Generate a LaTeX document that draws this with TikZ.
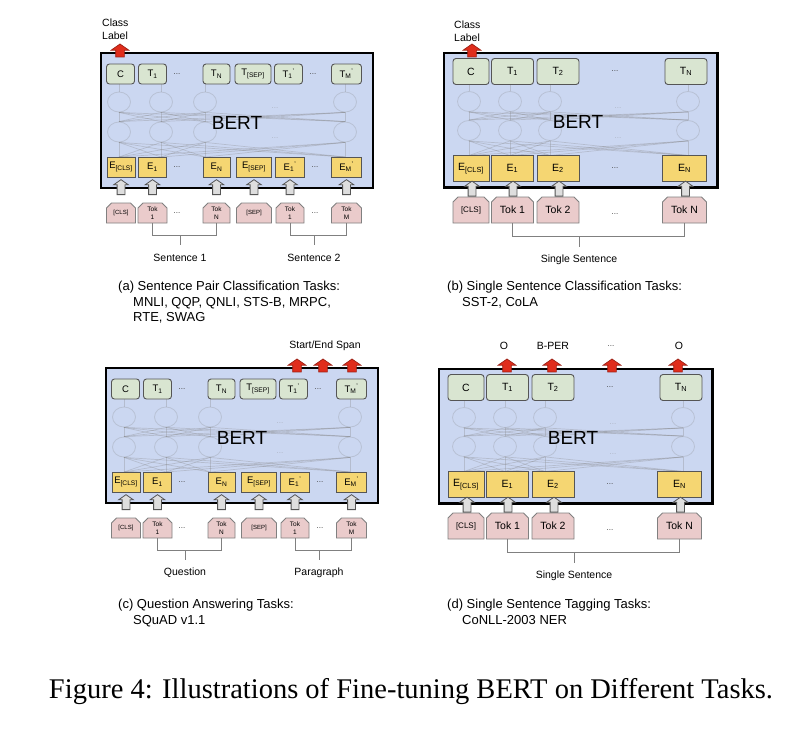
\documentclass[tikz,border=0pt]{standalone}
\usepackage{fontspec}
\setmainfont{Liberation Sans}
\newfontfamily\capserif{Liberation Serif}
\usepackage{tikz}
\usetikzlibrary{shapes.misc,shapes.arrows,shapes.geometric,positioning}
\usepackage{xcolor}
\definecolor{bertblue}{RGB}{203,215,241}
\definecolor{outgreen}{RGB}{217,229,209}
\definecolor{embyellow}{RGB}{245,214,114}
\definecolor{tokpink}{RGB}{234,203,203}
\definecolor{edgegray}{RGB}{85,85,85}
\definecolor{arrred}{RGB}{224,45,28}
\definecolor{arrgray}{RGB}{222,222,222}
\tikzstyle{bertbox} = [draw=black, line width=2.4pt, fill=bertblue]
\tikzstyle{outnode} = [rectangle, rounded corners=3pt, draw=edgegray, line width=0.9pt, fill=outgreen, inner sep=0pt, minimum height=20pt, font=\fontsize{9.5}{10}\selectfont]
\tikzstyle{embnode} = [rectangle, draw=edgegray, line width=0.9pt, fill=embyellow, inner sep=0pt, minimum height=20pt, font=\fontsize{9.5}{10}\selectfont]
\tikzstyle{toknode} = [chamfered rectangle, chamfered rectangle corners={north west,north east}, chamfered rectangle xsep=2.5pt, chamfered rectangle ysep=2.5pt, draw=gray, line width=0.8pt, fill=tokpink, inner sep=0pt, minimum height=20pt, align=center, font=\fontsize{6.5}{7.5}\selectfont]
\tikzstyle{bigrow} = [minimum height=26pt, font=\fontsize{10.5}{12}\selectfont]
\tikzstyle{inarrow} = [single arrow, shape border rotate=90, draw=edgegray, fill=arrgray, line width=0.8pt, inner sep=3.5pt, single arrow head extend=3.5pt, single arrow tip angle=110, minimum height=15pt]
\tikzstyle{outarrow} = [single arrow, shape border rotate=90, draw=arrred!70!black, fill=arrred, line width=0.7pt, inner sep=4pt, single arrow head extend=4.5pt, single arrow tip angle=110, minimum height=13pt]
\tikzstyle{hidnode} = [ellipse, minimum width=23pt, minimum height=20pt, inner sep=0pt, draw=gray, draw opacity=0.25, line width=0.8pt]
\tikzstyle{hidline} = [draw=gray, draw opacity=0.3, line width=0.7pt]
\tikzstyle{hiddots} = [text=gray, text opacity=0.4, inner sep=0pt, font=\fontsize{8}{8}\selectfont]
\tikzstyle{rowdots} = [text=darkgray, inner sep=0pt, font=\fontsize{8}{8}\selectfont]
\tikzstyle{brkline} = [draw=gray, line width=1pt]
\tikzstyle{bertlabel} = [inner sep=0pt, font=\fontsize{19}{19}\selectfont]
\tikzstyle{grouplabel} = [inner sep=0pt, font=\fontsize{10.5}{12}\selectfont]
\tikzstyle{toplabel} = [inner sep=0pt, font=\fontsize{10.5}{13}\selectfont]
\tikzstyle{capnode} = [anchor=north west, align=left, inner sep=0pt, font=\fontsize{13}{15.5}\selectfont]
\tikzstyle{figcap} = [inner sep=0pt, font=\capserif\fontsize{28.5}{32}\selectfont]

% sentence pair panel, box corner at (0,0)
\newcommand{\pairbody}[2]{%
  \path[bertbox] (0,0) rectangle (272,135);
  % hidden layers
  \foreach \hx [count=\i] in {18,60,104,244} {
    \node[hidnode] (h1\i) at (\hx,49) {};
    \node[hidnode] (h2\i) at (\hx,79) {};
    \coordinate (hb\i) at (\hx,104);
    \coordinate (ht\i) at (\hx,31);
  }
  \foreach \i in {1,...,4} {
    \draw[hidline] (h1\i.north) -- (ht\i);
    \foreach \j in {1,...,4} {
      \draw[hidline] (hb\i) -- (h2\j.south);
      \draw[hidline] (h2\i.north) -- (h1\j.south);
    }
  }
  \node[hiddots] (hd1) at (174,55) {...};
  \node[hiddots] (hd2) at (174,85) {...};
  \node[bertlabel] (bert) at (136,70) {BERT};
  % output row
  \node[outnode, minimum width=28pt] (c) at (19.5,21) {C};
  \node[outnode, minimum width=28pt] (t1) at (51.5,21) {T\textsubscript{1}};
  \node[rowdots] (td1) at (76,21) {...};
  \node[outnode, minimum width=27pt] (tn) at (115.5,21) {T\textsubscript{N}};
  \node[outnode, minimum width=36pt] (tsep) at (152,21) {T\textsubscript{[SEP]}};
  \node[outnode, minimum width=28pt] (tp1) at (187.5,21) {T\textsubscript{1}\textsuperscript{'}};
  \node[rowdots] (td2) at (212,21) {...};
  \node[outnode, minimum width=30pt] (tpm) at (245.5,21) {T\textsubscript{M}\textsuperscript{'}};
  % embedding row
  \node[embnode, minimum width=28pt] (ecls) at (20,114) {E\textsubscript{[CLS]}};
  \node[embnode, minimum width=28pt] (e1) at (51.5,114) {E\textsubscript{1}};
  \node[rowdots] (ed1) at (76,114) {...};
  \node[embnode, minimum width=27pt] (en) at (115.5,114) {E\textsubscript{N}};
  \node[embnode, minimum width=35pt] (esep) at (153,114) {E\textsubscript{[SEP]}};
  \node[embnode, minimum width=29pt] (ep1) at (189,114) {E\textsubscript{1}\textsuperscript{'}};
  \node[rowdots] (ed2) at (214,114) {...};
  \node[embnode, minimum width=30pt] (epm) at (245.5,114) {E\textsubscript{M}\textsuperscript{'}};
  % input tokens
  \node[toknode, minimum width=29pt, font=\fontsize{6}{7}\selectfont] (kcls) at (20,160) {[CLS]};
  \node[toknode, minimum width=29pt] (k1) at (51.5,160) {Tok\\1};
  \node[rowdots] (kd1) at (76,160) {...};
  \node[toknode, minimum width=27pt] (kn) at (115.5,160) {Tok\\N};
  \node[toknode, minimum width=35pt, font=\fontsize{6}{7}\selectfont] (ksep) at (153,160) {[SEP]};
  \node[toknode, minimum width=28pt] (kp1) at (189,160) {Tok\\1};
  \node[rowdots] (kd2) at (214,160) {...};
  \node[toknode, minimum width=30pt] (kpm) at (245.5,160) {Tok\\M};
  % arrows into BERT
  \node[inarrow] (u1) at (20,135.5) {};
  \node[inarrow] (u2) at (51.5,135.5) {};
  \node[inarrow] (u3) at (115.5,135.5) {};
  \node[inarrow] (u4) at (153,135.5) {};
  \node[inarrow] (u5) at (189,135.5) {};
  \node[inarrow] (u6) at (245.5,135.5) {};
  % brackets
  \draw[brkline] (k1.south) -- ++(0,12) -| (kn.south);
  \draw[brkline] (kp1.south) -- ++(0,12) -| (kpm.south);
  \coordinate (s1) at (79,182);
  \coordinate (s2) at (213,182);
  \draw[brkline] (s1) -- ++(0,10);
  \draw[brkline] (s2) -- ++(0,10);
  \node[grouplabel] (g1) at (79,205) {#1};
  \node[grouplabel] (g2) at (213,205) {#2};
}

% single sentence panel, box corner at (0,0)
\newcommand{\singlebody}[1]{%
  \path[bertbox] (0,0) rectangle (273.5,134.5);
  % hidden layers
  \foreach \hx [count=\i] in {25,66,106,244} {
    \node[hidnode] (h1\i) at (\hx,48.5) {};
    \node[hidnode] (h2\i) at (\hx,77.5) {};
    \coordinate (hb\i) at (\hx,102.5);
    \coordinate (ht\i) at (\hx,31.5);
  }
  \foreach \i in {1,...,4} {
    \draw[hidline] (h1\i.north) -- (ht\i);
    \foreach \j in {1,...,4} {
      \draw[hidline] (hb\i) -- (h2\j.south);
      \draw[hidline] (h2\i.north) -- (h1\j.south);
    }
  }
  \node[hiddots] (hd1) at (174,55) {...};
  \node[hiddots] (hd2) at (174,85) {...};
  \node[bertlabel] (bert) at (134,69) {BERT};
  % output row
  \node[outnode, bigrow, minimum width=36pt] (c) at (27,18.5) {C};
  \node[outnode, bigrow, minimum width=42pt] (t1) at (68.5,18.5) {T\textsubscript{1}};
  \node[outnode, bigrow, minimum width=42pt] (t2) at (114,18.5) {T\textsubscript{2}};
  \node[rowdots] (td) at (171,18.5) {...};
  \node[outnode, bigrow, minimum width=42pt] (tn) at (242,18.5) {T\textsubscript{N}};
  % embedding row
  \node[embnode, bigrow, minimum width=36pt] (ecls) at (27,115.5) {E\textsubscript{[CLS]}};
  \node[embnode, bigrow, minimum width=42pt] (e1) at (68.5,115.5) {E\textsubscript{1}};
  \node[embnode, bigrow, minimum width=42pt] (e2) at (114,115.5) {E\textsubscript{2}};
  \node[rowdots] (ed) at (171,115.5) {...};
  \node[embnode, bigrow, minimum width=44pt] (en) at (240.5,115.5) {E\textsubscript{N}};
  % input tokens
  \node[toknode, bigrow, minimum width=36pt, font=\fontsize{8}{9}\selectfont] (kcls) at (27,157) {[CLS]};
  \node[toknode, bigrow, minimum width=42pt] (k1) at (68.5,157) {Tok 1};
  \node[toknode, bigrow, minimum width=42pt] (k2) at (114,157) {Tok 2};
  \node[rowdots] (kd) at (171,161) {...};
  \node[toknode, bigrow, minimum width=44pt] (kn) at (240.5,157) {Tok N};
  % arrows into BERT
  \node[inarrow] (u1) at (28,137) {};
  \node[inarrow] (u2) at (69,137) {};
  \node[inarrow] (u3) at (115,137) {};
  \node[inarrow] (u4) at (241.5,137) {};
  % bracket
  \draw[brkline] (k1.south) -- ++(0,13) -| (kn.south);
  \coordinate (s1) at (135,183);
  \draw[brkline] (s1) -- ++(0,11);
  \node[grouplabel] (g1) at (135,206.5) {#1};
}

\begin{document}
\begin{tikzpicture}[x=1pt, y=-1pt]
\fill[white] (0,0) rectangle (802,732);
\useasboundingbox (0,0) rectangle (802,732);

% (a) sentence pair classification
\begin{scope}[shift={(101,53)}, name prefix=a-]
\pairbody{Sentence 1}{Sentence 2}
\node[outarrow] (cls) at (19,-1) {};
\node[toplabel, anchor=west, align=left] (lbl) at (1,-24) {Class\\Label};
\end{scope}

% (b) single sentence classification
\begin{scope}[shift={(444,53)}, name prefix=b-]
\singlebody{Single Sentence}
\node[outarrow] (cls) at (28,-1) {};
\node[toplabel, anchor=west, align=left] (lbl) at (10,-22) {Class\\Label};
\end{scope}

% (c) question answering
\begin{scope}[shift={(106,368)}, name prefix=c-]
\pairbody{Question}{Paragraph}
\node[outarrow] (sp1) at (191,-1) {};
\node[outarrow] (sp2) at (217,-1) {};
\node[outarrow] (sp3) at (246,-1) {};
\node[toplabel] (lbl) at (219,-22) {Start/End Span};
\end{scope}

% (d) single sentence tagging
\begin{scope}[shift={(439,369)}, name prefix=d-]
\singlebody{Single Sentence}
\node[outarrow] (o1) at (68,-2) {};
\node[outarrow] (o2) at (113,-2) {};
\node[outarrow] (o3) at (173,-2) {};
\node[outarrow] (o4) at (239,-2) {};
\node[toplabel] (l1) at (65,-23) {O};
\node[toplabel] (l2) at (114,-23) {B-PER};
\node[rowdots] (l3) at (172,-23) {...};
\node[toplabel] (l4) at (240,-23) {O};
\end{scope}

% captions
\node[capnode] (capa) at (118,281) {(a) Sentence Pair Classification Tasks:\\\hspace*{15pt}MNLI, QQP, QNLI, STS-B, MRPC,\\\hspace*{15pt}RTE, SWAG};
\node[capnode] (capb) at (447,281) {(b) Single Sentence Classification Tasks:\\\hspace*{15pt}SST-2, CoLA};
\node[capnode] (capc) at (118,599) {(c) Question Answering Tasks:\\\hspace*{15pt}SQuAD v1.1};
\node[capnode] (capd) at (447,599) {(d) Single Sentence Tagging Tasks:\\\hspace*{15pt}CoNLL-2003 NER};
\node[figcap] (fig) at (411,692) {Figure 4: Illustrations of Fine-tuning BERT on Different Tasks.};
\end{tikzpicture}
\end{document}
